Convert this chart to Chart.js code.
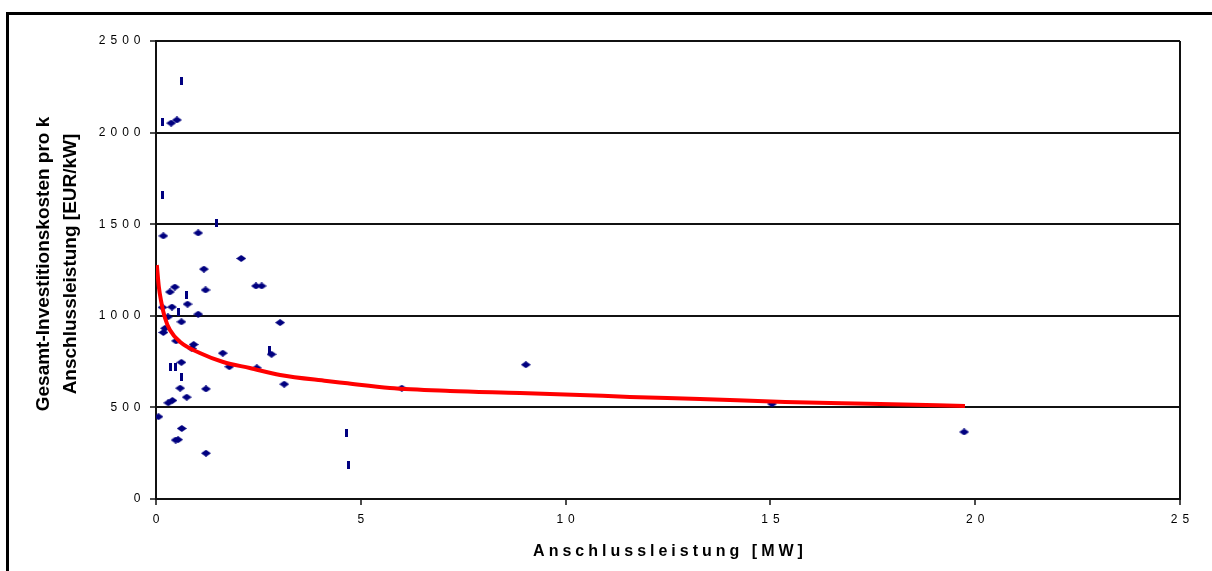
<!DOCTYPE html>
<html>
<head>
<meta charset="utf-8">
<title>Gesamt-Investitionskosten pro kW Anschlussleistung</title>
<script src="https://cdn.jsdelivr.net/npm/chart.js@4"></script>
<style>
  html, body { margin: 0; padding: 0; background: #fff; overflow: hidden; }
  #wrap { position: relative; width: 1212px; height: 571px; }
  #wrap canvas { position: absolute; left: 0; top: 0; }
  #frame { position: absolute; left: 6px; top: 12px; width: 1300px; height: 700px;
           border-left: 3px solid #000; border-top: 3px solid #000; pointer-events: none; }
</style>
</head>
<body>
<div id="wrap">
  <canvas id="chart" width="1212" height="571"></canvas>
  <div id="frame"></div>
</div>
<script>
// Anlagen (Raute): Anschlussleistung [MW] und spezifische Investitionskosten [EUR/kW]
const plantsA_MW   = [0.06, 0.18, 1.03, 2.08, 1.17, 0.46, 0.34, 1.21, 0.77, 0.39, 0.16, 1.03, 0.29, 0.62,
                      0.22, 0.18, 0.49, 0.92, 0.87, 3.03, 1.63, 2.82, 1.79, 2.46, 3.13, 1.22, 0.59, 0.75,
                      0.40, 0.30, 0.62, 0.63, 0.48, 0.54, 1.22, 2.44, 2.58, 6.00, 9.03, 15.04, 19.73,
                      0.37, 0.51];
const plantsA_cost = [449, 1436, 1452, 1313, 1255, 1157, 1130, 1141, 1064, 1048, 1046, 1009, 994, 967,
                      932, 909, 863, 843, 822, 963, 796, 790, 722, 716, 627, 601, 605, 556,
                      538, 525, 746, 385, 322, 324, 250, 1163, 1163, 605, 733, 519, 366,
                      2052, 2069];

// Anlagen (Strichmarke)
const plantsB_MW   = [0.63, 0.15, 0.15, 1.47, 0.74, 0.54, 0.36, 0.47, 0.63, 2.76, 4.65, 4.70];
const plantsB_cost = [2282, 2059, 1659, 1505, 1114, 1022, 722, 722, 668, 813, 362, 186];

// Trendkurve (Potenzfunktion)
const trendMW   = [0.02, 0.07, 0.12, 0.22, 0.34, 0.59, 1.07, 1.64, 2.29, 3.03, 4.17, 4.61, 5.71,
                   7.18, 8.89, 10.35, 11.57, 13.28, 15.36, 17.68, 19.75];
const trendCost = [1277, 1157, 1086, 988, 922, 857, 797, 748, 715, 677, 644, 633, 606,
                   590, 579, 568, 557, 546, 529, 519, 508];

// Achsen
const xTickValues = [0, 5, 10, 15, 20, 25];
const yTickValues = [0, 500, 1000, 1500, 2000, 2500];
const xTitle = 'Anschlussleistung [MW]';
const yTitle = ['Gesamt-Investitionskosten pro k', 'Anschlussleistung [EUR/kW]'];

const NAVY = '#000080';

function makeMarker(w, h, paint) {
  const c = document.createElement('canvas');
  c.width = w; c.height = h;
  const g = c.getContext('2d');
  g.fillStyle = NAVY;
  paint(g, w, h);
  return c;
}
const diamondMarker = makeMarker(10, 7, (g, w, h) => {
  g.beginPath();
  g.moveTo(0, h / 2); g.lineTo(w / 2, 0); g.lineTo(w, h / 2); g.lineTo(w / 2, h);
  g.closePath(); g.fill();
});
const barMarker = makeMarker(3, 8, (g, w, h) => g.fillRect(0, 0, w, h));

// Linear scale with letter-spaced labels and titles
class SpacedLinearScale extends Chart.LinearScale {
  drawLabels(area) {
    const ls = (this.options.ticks && this.options.ticks.letterSpacing) || 0;
    const ctx = this.ctx;
    ctx.save();
    ctx.letterSpacing = ls + 'px';
    if (this.isHorizontal()) ctx.translate(ls / 2, 0);
    super.drawLabels(area);
    ctx.restore();
  }
  drawTitle() {
    const t = this.options.title || {};
    const ls = t.letterSpacing || 0;
    const shift = t.offsetAlong || 0;
    const ctx = this.ctx;
    ctx.save();
    ctx.letterSpacing = ls + 'px';
    if (this.isHorizontal()) ctx.translate(ls / 2 + shift, 0);
    else ctx.translate(0, shift);
    super.drawTitle();
    ctx.restore();
  }
}
SpacedLinearScale.id = 'spacedLinear';
SpacedLinearScale.defaults = Chart.LinearScale.defaults;
Chart.register(SpacedLinearScale);

Chart.defaults.font.family = '"Liberation Sans", Arial, sans-serif';
Chart.defaults.color = '#000';

const toPoints = (xs, ys) => xs.map((x, i) => ({ x: x, y: ys[i] }));

new Chart(document.getElementById('chart'), {
  type: 'scatter',
  data: {
    datasets: [
      {
        label: 'Trend',
        data: toPoints(trendMW, trendCost),
        showLine: true,
        borderColor: '#ff0000',
        borderWidth: 4,
        pointRadius: 0,
        cubicInterpolationMode: 'monotone'
      },
      {
        label: 'Anlagen',
        data: toPoints(plantsA_MW, plantsA_cost),
        pointStyle: diamondMarker
      },
      {
        label: 'Anlagen ',
        data: toPoints(plantsB_MW, plantsB_cost),
        pointStyle: barMarker
      }
    ]
  },
  options: {
    responsive: false,
    animation: false,
    devicePixelRatio: 1,
    events: [],
    layout: { padding: { left: 0, top: 41, right: 32, bottom: 0 } },
    plugins: { legend: { display: false }, tooltip: { enabled: false } },
    scales: {
      x: {
        type: 'spacedLinear',
        position: 'bottom',
        min: 0, max: 25,
        afterBuildTicks: s => { s.ticks = xTickValues.map(v => ({ value: v })); },
        afterFit: s => { s.height = 72; },
        grid: {
          drawOnChartArea: true,
          color: c => (c.tick && c.tick.value === 25) ? '#111' : 'rgba(0,0,0,0)',
          lineWidth: 2,
          tickColor: '#111',
          tickWidth: 1.5,
          tickLength: 6
        },
        border: { display: true, color: '#111', width: 2 },
        ticks: {
          padding: 7,
          font: { size: 12 },
          color: '#000',
          letterSpacing: 5,
          maxRotation: 0,
          autoSkip: false,
          callback: v => String(v)
        },
        title: {
          display: true,
          text: xTitle,
          color: '#000',
          font: { size: 16, weight: 'bold' },
          padding: { top: 0, bottom: 10 },
          letterSpacing: 4
        }
      },
      y: {
        type: 'spacedLinear',
        position: 'left',
        min: 0, max: 2500,
        afterBuildTicks: s => { s.ticks = yTickValues.map(v => ({ value: v })); },
        afterFit: s => { s.width = 156; },
        grid: {
          color: '#111',
          lineWidth: 2,
          tickColor: '#111',
          tickWidth: 1.5,
          tickLength: 6
        },
        border: { display: true, color: '#111', width: 2 },
        ticks: {
          padding: 4.5,
          font: { size: 12 },
          color: '#000',
          letterSpacing: 5,
          autoSkip: false,
          callback: v => String(v)
        },
        title: {
          display: true,
          text: yTitle,
          color: '#000',
          font: { size: 19, weight: 'bold', lineHeight: 1.45 },
          padding: { top: 29.8, bottom: 0 },
          offsetAlong: -6
        }
      }
    }
  }
});
</script>
</body>
</html>
